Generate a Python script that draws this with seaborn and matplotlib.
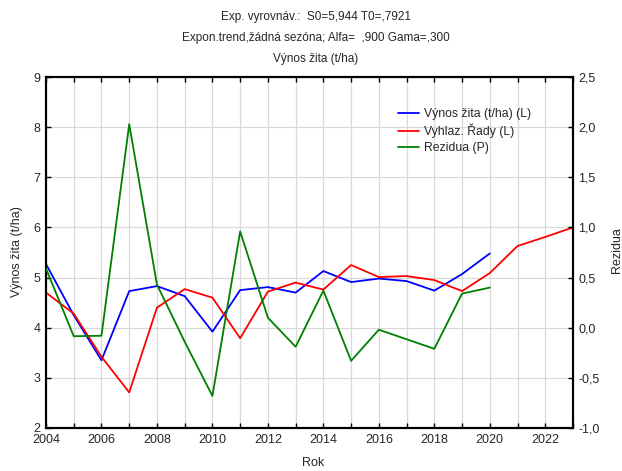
import numpy as np
import pandas as pd
import matplotlib
matplotlib.use("Agg")
import matplotlib.pyplot as plt
from matplotlib.ticker import MultipleLocator, FuncFormatter
from matplotlib.lines import Line2D
import seaborn as sns

# ---- data ----
years_obs = [2004, 2005, 2006, 2007, 2008, 2009, 2010, 2011, 2012, 2013, 2014,
             2015, 2016, 2017, 2018, 2019, 2020]
vynos = [5.27, 4.25, 3.35, 4.73, 4.83, 4.63, 3.92, 4.75, 4.81, 4.70, 5.13,
         4.91, 4.98, 4.93, 4.74, 5.07, 5.48]
years_smooth = [2004, 2005, 2006, 2007, 2008, 2009, 2010, 2011, 2012, 2013, 2014,
                2015, 2016, 2017, 2018, 2019, 2020, 2021, 2022, 2023]
vyhlaz = [4.70, 4.28, 3.42, 2.71, 4.40, 4.77, 4.60, 3.79, 4.72, 4.90, 4.76,
          5.25, 5.01, 5.03, 4.95, 4.73, 5.09, 5.63, 5.81, 6.00]
rezidua = [0.59, -0.085, -0.08, 2.03, 0.43, -0.14, -0.68, 0.96, 0.10, -0.19, 0.37,
           -0.33, -0.02, -0.115, -0.21, 0.34, 0.40]

title_lines = ["Exp. vyrovnáv.:  S0=5,944 T0=,7921",
               "Expon.trend,žádná sezóna; Alfa=  ,900 Gama=,300",
               "Výnos žita (t/ha)"]
legend_labels = ["Výnos žita (t/ha) (L)", "Vyhlaz. Řady (L)", "Rezidua (P)"]

sns.set_theme(style="white")
plt.rcParams['font.family'] = ['Liberation Sans', 'DejaVu Sans']

W, H = 622, 471
fig = plt.figure(figsize=(W / 100, H / 100), dpi=100)
fig.subplots_adjust(left=46 / W, right=573 / W, top=1 - 77 / H, bottom=1 - 428 / H)
ax = fig.add_subplot(111)
ax2 = ax.twinx()

blue, red, green = "#0000ff", "#ff0000", "#008000"
lw = 1.3

df_obs = pd.DataFrame({"Rok": years_obs, "vynos": vynos, "rez": rezidua})
df_sm = pd.DataFrame({"Rok": years_smooth, "vyhlaz": vyhlaz})

sns.lineplot(data=df_obs, x="Rok", y="vynos", ax=ax, color=blue, lw=lw, legend=False, zorder=3)
sns.lineplot(data=df_sm, x="Rok", y="vyhlaz", ax=ax, color=red, lw=lw, legend=False, zorder=3)
sns.lineplot(data=df_obs, x="Rok", y="rez", ax=ax2, color=green, lw=lw, legend=False, zorder=3)

ax.set_xlim(2004, 2023)
ax.set_ylim(2, 9)
ax2.set_ylim(-1, 2.5)

ax.xaxis.set_major_locator(MultipleLocator(2))
ax.xaxis.set_minor_locator(MultipleLocator(1))
ax.yaxis.set_major_locator(MultipleLocator(1))
ax2.yaxis.set_major_locator(MultipleLocator(0.5))
ax2.yaxis.set_major_formatter(FuncFormatter(lambda v, p: f"{v:.1f}".replace(".", ",")))

ax.grid(True, which="both", axis="x", color="#d9d9d9", lw=0.9)
ax.grid(True, which="major", axis="y", color="#d9d9d9", lw=0.9)
ax.set_axisbelow(True)

fs = 9
ax.tick_params(axis="x", which="both", direction="in", top=True, bottom=True,
               length=3.5, width=1, color="black", labelsize=fs, pad=4)
ax.tick_params(axis="y", which="both", direction="in", left=True, right=False,
               length=3.5, width=1, color="black", labelsize=fs, pad=4)
ax2.tick_params(axis="y", direction="in", right=True, length=3.5, width=1,
                color="black", labelsize=fs, pad=4)

for a in (ax, ax2):
    for s in a.spines.values():
        s.set_color("black")
        s.set_linewidth(1.5)

ax.set_xlabel("")
ax.set_ylabel("")
ax2.set_ylabel("")

fig.text(17 / W, 1 - 252 / H, "Výnos žita (t/ha)", rotation=90, ha="center", va="center", fontsize=fs)
fig.text(617 / W, 1 - 250 / H, "Rezidua", rotation=90, ha="center", va="center", fontsize=fs)
fig.text(313 / W, 1 - 463 / H, "Rok", ha="center", va="center", fontsize=fs)

for i, (t, yy) in enumerate(zip(title_lines, [17, 38, 59])):
    fig.text(316 / W, 1 - yy / H, t, ha="center", va="center", fontsize=8.5)

handles = [Line2D([], [], color=c, lw=lw) for c in (blue, red, green)]
fig.legend(handles, legend_labels, loc="upper left", bbox_to_anchor=(398 / W, 1 - 108 / H),
           frameon=False, fontsize=8.8, handlelength=1.7, handletextpad=0.45,
           labelspacing=0.32, borderpad=0, borderaxespad=0)

fig.savefig("out.png", dpi=100)
